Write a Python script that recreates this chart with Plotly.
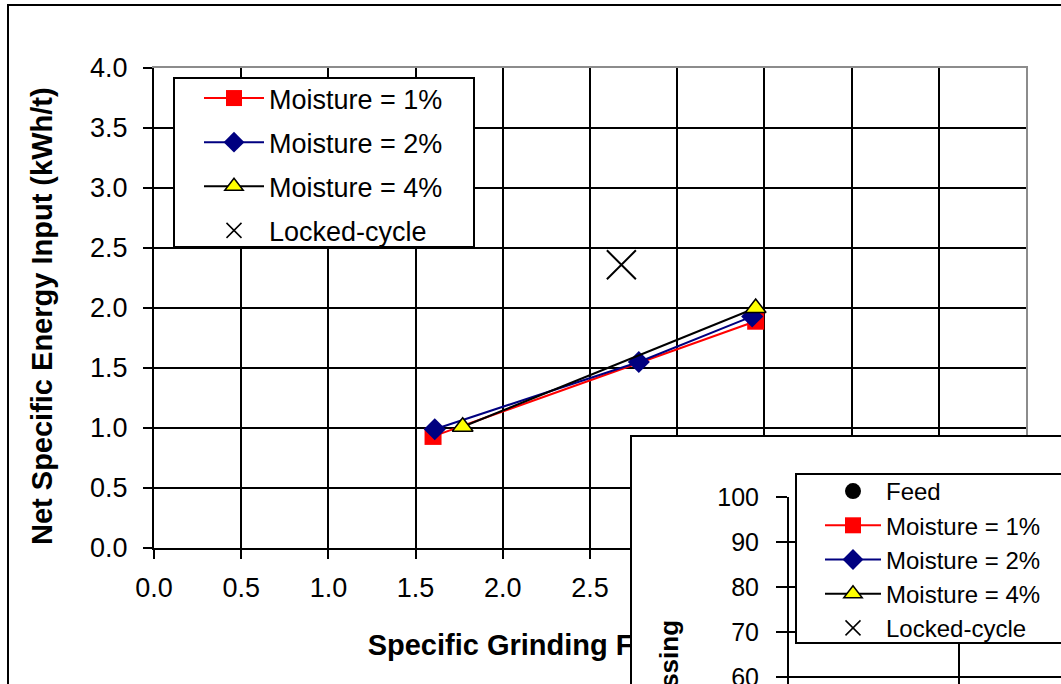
import plotly.graph_objects as go

W, H = 1061, 684


def px(x):
    return x / W


def py(y):
    return 1 - y / H


FONT = "Liberation Sans, Arial, sans-serif"

# ---------------- data ----------------
series_names = ["Moisture = 1%", "Moisture = 2%", "Moisture = 4%"]
sgf_m1 = [1.60, 3.45]
sei_m1 = [0.93, 1.89]
sgf_m2 = [1.61, 2.78, 3.43]
sei_m2 = [0.99, 1.55, 1.93]
sgf_m4 = [1.77, 3.45]
sei_m4 = [1.01, 2.00]
locked_name = "Locked-cycle"
sgf_locked = [2.68]
sei_locked = [2.36]
feed_name = "Feed"

x_range = [0, 5]
y_range = [0, 4]
x_tick_vals = [0.0, 0.5, 1.0, 1.5, 2.0, 2.5, 3.0, 3.5, 4.0, 4.5]
x_tick_text = ["0.0", "0.5", "1.0", "1.5", "2.0", "2.5", "", "", "", ""]  # rest hidden by inset
y_tick_vals = [0.0, 0.5, 1.0, 1.5, 2.0, 2.5, 3.0, 3.5, 4.0]
y_grid_vals = [0.5, 1.0, 1.5, 2.0, 2.5, 3.0, 3.5]
x_title = "Specific Grinding Force (N/mm²)"
x_title_at = [2.5]
y_title = "Net Specific Energy Input (kWh/t)"
inset_y_title = "% Passing"
inset_y_range = [58.44, 100]
inset_y_ticks = [60, 70, 80, 90, 100]

colors = ["#FF0000", "#000080", "#000000"]
symbols = ["square", "diamond", "triangle-up"]
fills = ["#FF0000", "#000080", "#FFFF00"]
sizes = [17, 17, 18]

fig = go.Figure()

xs = [sgf_m1, sgf_m2, sgf_m4]
ys = [sei_m1, sei_m2, sei_m4]
for i in range(3):
    fig.add_trace(go.Scatter(
        x=xs[i], y=ys[i], name=series_names[i], mode="lines+markers",
        line=dict(color=colors[i], width=2),
        marker=dict(symbol=symbols[i], size=sizes[i], color=fills[i],
                    line=dict(color="#000000", width=1.5 if i == 2 else 0)),
        legend="legend", legendgroup="g%d" % i,
    ))

# locked cycle point (large X) and its legend entry
fig.add_trace(go.Scatter(
    x=sgf_locked, y=sei_locked, name=locked_name, mode="markers",
    marker=dict(symbol="x-thin", size=29, line=dict(color="#000000", width=2)),
    showlegend=False,
))
fig.add_trace(go.Scatter(
    x=[None], y=[None], name=locked_name, mode="markers",
    marker=dict(symbol="x-thin", size=15, line=dict(color="#000000", width=1.5)),
    legend="legend", legendgroup="g3",
))

# helper (empty) traces so that the auxiliary axes exist
for xa, ya in [("x5", "y"), ("x", "y5"), ("x6", "y"), ("x2", "y2")]:
    fig.add_trace(go.Scatter(x=[None], y=[None], xaxis=xa, yaxis=ya, mode="markers",
                             showlegend=False, hoverinfo="skip"))

# inset legend entries
fig.add_trace(go.Scatter(
    x=[None], y=[None], name=feed_name, mode="markers", xaxis="x3", yaxis="y3",
    marker=dict(symbol="circle", size=17, color="#000000"), legend="legend2",
))
for i in range(3):
    fig.add_trace(go.Scatter(
        x=[None], y=[None], name=series_names[i], mode="lines+markers",
        xaxis="x3", yaxis="y3",
        line=dict(color=colors[i], width=2),
        marker=dict(symbol=symbols[i], size=sizes[i], color=fills[i],
                    line=dict(color="#000000", width=1.5 if i == 2 else 0)),
        legend="legend2",
    ))
fig.add_trace(go.Scatter(
    x=[None], y=[None], name=locked_name, mode="markers", xaxis="x3", yaxis="y3",
    marker=dict(symbol="x-thin", size=15, line=dict(color="#000000", width=1.5)),
    legend="legend2",
))

axis_common = dict(showline=True, linecolor="#000000", linewidth=2,
                   ticks="outside", tickcolor="#000000", tickwidth=2,
                   gridcolor="#000000", gridwidth=2,
                   zeroline=False, fixedrange=True,
                   tickfont=dict(family=FONT, size=27, color="#000000"))

fig.update_layout(
    width=W, height=H,
    margin=dict(l=0, r=0, t=0, b=0, autoexpand=False),
    paper_bgcolor="#FFFFFF", plot_bgcolor="#FFFFFF",
    font=dict(family=FONT, color="#000000"),
    xaxis=dict(domain=[px(154), px(1026)], range=x_range, tickmode="array",
               tickvals=x_tick_vals, ticktext=x_tick_text, showgrid=True,
               ticklen=9, anchor="y", ticklabelstandoff=6,
               **axis_common),
    yaxis=dict(domain=[py(548), py(68)], range=y_range, tickmode="array",
               tickvals=y_tick_vals, tickformat=".1f", showgrid=False,
               ticklen=9, anchor="x", ticklabelstandoff=10,
               **axis_common),
    # gray plot-area border (top / right) + horizontal grid
    xaxis5=dict(overlaying="x", side="top", anchor="y", range=x_range,
                showline=True, linecolor="#8C8C8C", linewidth=2,
                showgrid=False, zeroline=False, showticklabels=False, ticks=""),
    yaxis5=dict(overlaying="y", side="right", anchor="x", range=y_range,
                tickmode="array", tickvals=y_grid_vals,
                showline=True, linecolor="#8C8C8C", linewidth=2,
                showgrid=True, gridcolor="#000000", gridwidth=2,
                zeroline=False, showticklabels=False, ticks=""),
    # x-axis title as a label so the inset clips it
    xaxis6=dict(overlaying="x", anchor="free", position=py(625), range=x_range,
                tickmode="array", tickvals=x_title_at, ticktext=[x_title],
                showline=False, showgrid=False, zeroline=False, ticks="",
                tickfont=dict(family=FONT, size=29, color="#000000", weight="bold")),
    # inset frame
    xaxis2=dict(domain=[px(632), 1], range=[0, 1], side="top", anchor="y2",
                showline=True, linecolor="#000000", linewidth=2, showgrid=False,
                zeroline=False, showticklabels=False, ticks="", fixedrange=True),
    yaxis2=dict(domain=[0, py(437)], range=[0, 1], side="left", anchor="x2",
                showline=True, linecolor="#000000", linewidth=2, showgrid=False,
                zeroline=False, showticklabels=False, ticks="", fixedrange=True),
    # inset plot
    xaxis3=dict(domain=[px(789), 1], range=[0, 1.6], dtick=1, tick0=0, anchor="y3",
                showline=False, showgrid=True, gridcolor="#000000", gridwidth=2,
                zeroline=False, showticklabels=False, ticks="", fixedrange=True),
    yaxis3=dict(domain=[0, py(497)], range=inset_y_range, tickmode="array",
                tickvals=inset_y_ticks, anchor="x3", ticklen=11,
                ticklabelstandoff=12, showgrid=True, ticklabeloverflow="allow",
                **{**axis_common, "tickfont": dict(family=FONT, size=25, color="#000000")}),
    legend=dict(x=px(199), y=py(74), xanchor="left", yanchor="top",
                bgcolor="rgba(0,0,0,0)", borderwidth=0, itemwidth=60,
                tracegroupgap=6, traceorder="grouped",
                font=dict(family=FONT, size=27, color="#000000")),
    legend2=dict(x=px(820), y=py(469), xanchor="left", yanchor="top",
                 bgcolor="rgba(0,0,0,0)", borderwidth=0, itemwidth=56,
                 tracegroupgap=0, traceorder="normal",
                 font=dict(family=FONT, size=24, color="#000000")),
    annotations=[
        dict(text="<b>" + y_title + "</b>", x=px(42), y=py(316), xref="paper",
             yref="paper", textangle=-90, showarrow=False, xanchor="center",
             yanchor="middle", font=dict(family=FONT, size=29, color="#000000")),
        dict(text="<b>" + inset_y_title + "</b>", x=px(669), y=py(618), xref="paper",
             yref="paper", textangle=-90, showarrow=False, xanchor="center",
             yanchor="top", font=dict(family=FONT, size=26, color="#000000")),
    ],
    shapes=[
        dict(type="rect", xref="paper", yref="paper", x0=px(8), x1=1.05,
             y0=-0.05, y1=py(5), line=dict(color="#000000", width=2),
             layer="below"),
        dict(type="rect", xref="paper", yref="paper", x0=px(174), x1=px(474),
             y0=py(247), y1=py(78), line=dict(color="#000000", width=2),
             fillcolor="#FFFFFF", layer="above"),
        dict(type="rect", xref="paper", yref="paper", x0=px(796), x1=1.1,
             y0=py(643), y1=py(474), line=dict(color="#000000", width=2),
             fillcolor="#FFFFFF", layer="above"),
    ],
    showlegend=True,
)

fig.write_html("out.html", config={"displayModeBar": False},
               post_script="document.body.style.margin='0px';")
